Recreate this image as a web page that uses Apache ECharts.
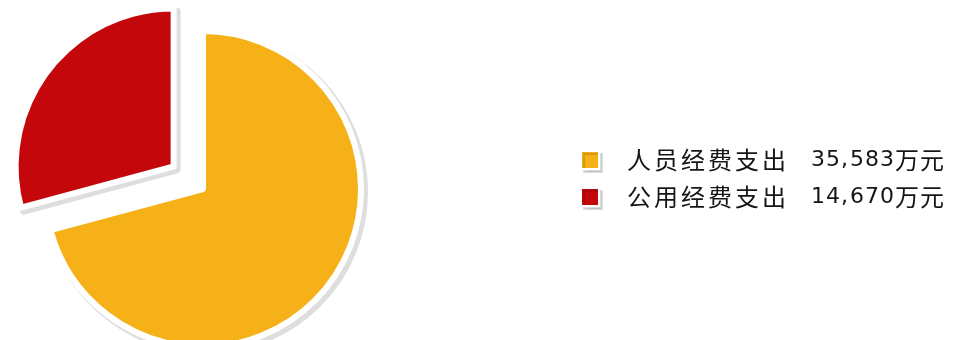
<!DOCTYPE html>
<html>
<head>
<meta charset="utf-8">
<script src="https://cdn.jsdelivr.net/npm/echarts@6/dist/echarts.min.js"></script>
<style>
  html, body { margin: 0; padding: 0; background: #fff; }
  #chart { width: 958px; height: 340px; }
</style>
</head>
<body>
<div id="chart"></div>
<script>
// Expenditure breakdown (unit: 万元)
const categories = ['人员经费支出', '公用经费支出'];
const values = [35583, 14670];
const unit = '万元';
const colors = ['#F5B117', '#C4070A'];

const chart = echarts.init(document.getElementById('chart'), null, { renderer: 'canvas' });

// Build a legend label where every glyph gets its own fixed-width slot
function legendLabel(name) {
  const idx = categories.indexOf(name);
  const num = values[idx].toLocaleString('en-US');
  let s = '{sp0| }';
  for (const ch of name) s += '{n|' + ch + '}';
  s += '{sp| }';
  for (const ch of num) s += (ch === ',' ? '{m|,}' : '{d|' + ch + '}');
  for (const ch of unit) s += '{u|' + ch + '}';
  return s;
}

const cjk = '"Noto Sans CJK SC", sans-serif';
const latin = '"DejaVu Sans", sans-serif';
const textColor = '#151515';

const pieCenter = [203, 189];
const pieRadius = 158;
const explode = 37;

function pieData() {
  return categories.map((name, i) => ({ name: name, value: values[i], selected: i === 1 }));
}

chart.setOption({
  animation: false,
  color: colors,
  legend: {
    orient: 'vertical',
    left: 580,
    top: 148,
    padding: 0,
    itemWidth: 18,
    itemHeight: 18,
    itemGap: 13,
    icon: 'rect',
    selectedMode: false,
    itemStyle: {
      borderColor: '#fff',
      borderWidth: 2,
      shadowColor: 'rgba(0,0,0,0.14)',
      shadowOffsetX: 3,
      shadowOffsetY: 3,
      shadowBlur: 1
    },
    formatter: legendLabel,
    textStyle: {
      color: textColor,
      fontSize: 23,
      rich: {
        sp0: { width: 23, lineHeight: 22 },
        n: { fontFamily: cjk, fontSize: 24, width: 27, lineHeight: 22, color: textColor },
        sp: { width: 22, lineHeight: 22 },
        d: { fontFamily: latin, fontSize: 22, width: 15, lineHeight: 22, color: textColor },
        m: { fontFamily: latin, fontSize: 22, width: 9, lineHeight: 22, color: textColor },
        u: { fontFamily: cjk, fontSize: 24, width: 25, lineHeight: 22, color: textColor }
      }
    },
    data: categories
  },
  series: [{
    // slices
    type: 'pie',
    z: 3,
    center: pieCenter,
    radius: [0, pieRadius],
    startAngle: 90,
    clockwise: true,
    selectedMode: 'single',
    selectedOffset: explode,
    label: { show: false },
    labelLine: { show: false },
    emphasis: { disabled: true, scale: false },
    itemStyle: { borderColor: '#fff', borderWidth: 6 },
    data: pieData()
  }, {
    // drop shadow under the slices
    type: 'pie',
    z: 1,
    silent: true,
    legendHoverLink: false,
    center: [pieCenter[0] + 3, pieCenter[1] + 3],
    radius: [0, pieRadius],
    startAngle: 90,
    clockwise: true,
    selectedMode: 'single',
    selectedOffset: explode,
    label: { show: false },
    labelLine: { show: false },
    emphasis: { disabled: true, scale: false },
    itemStyle: { color: '#dedede', borderColor: '#dedede', borderWidth: 8 },
    data: pieData()
  }]
});
</script>
</body>
</html>
